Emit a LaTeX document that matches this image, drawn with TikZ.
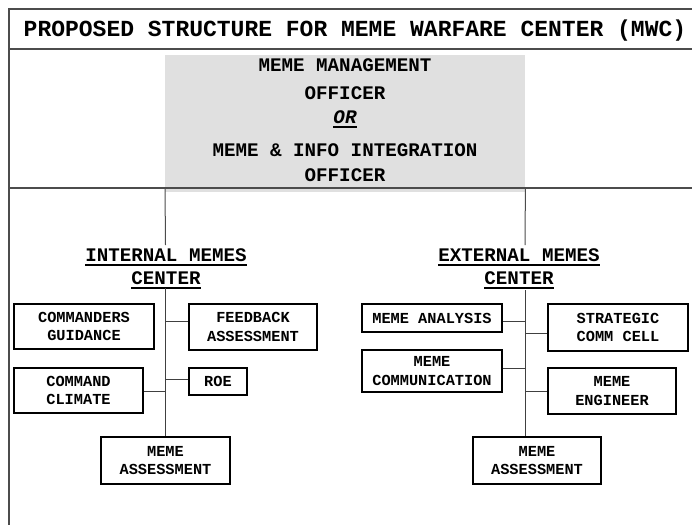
\documentclass[tikz,border=0pt]{standalone}
\usepackage{fontspec}
\newfontfamily\cour{Liberation Mono}
\begin{document}
\begin{tikzpicture}[x=1pt,y=-1pt,
  frame/.style={draw=black!70,line width=1.3pt},
  conn/.style={draw=black!75,line width=1pt},
  ubox/.style={draw,line width=1.5pt,inner sep=0pt,align=center,
    font=\cour\bfseries\fontsize{15.3}{18.5}\selectfont},
  abox/.style={ubox,line width=2.3pt},
  head/.style={inner sep=0pt,anchor=base,font=\cour\bfseries\fontsize{19.2}{23}\selectfont},
  uline/.style={line width=2pt}]
\useasboundingbox (0,0) rectangle (692,525);
% grey officer box
\node[fill=black!12,minimum width=360pt,minimum height=137pt,inner sep=0pt,anchor=north west] (mgr) at (165,55) {};
% frame
\draw[frame] (692,9) -- (9,9) -- (9,525);
\draw[frame] (9,49) -- (692,49);
\draw[frame] (9,188) -- (692,188);
% title
\node[head,font=\cour\bfseries\fontsize{23}{27}\selectfont] (title) at (355,36.7) {PROPOSED STRUCTURE FOR MEME WARFARE CENTER (MWC)};
% officer text
\node[head] (m1) at (345,71) {MEME MANAGEMENT};
\node[head] (m2) at (345,99.5) {OFFICER};
\node[head,font=\cour\bfseries\itshape\fontsize{19.2}{23}\selectfont] (m3) at (345,123) {OR};
\draw[uline] ([yshift=-3.7pt]m3.base west) -- ([yshift=-3.7pt]m3.base east);
\node[head] (m4) at (345,156.5) {MEME \& INFO INTEGRATION};
\node[head] (m5) at (345,181.5) {OFFICER};
% headings
\node[head] (ih1) at (166,261.5) {INTERNAL MEMES};
\node[head] (ih2) at (166,284) {CENTER};
\node[head] (eh1) at (519,261.5) {EXTERNAL MEMES};
\node[head] (eh2) at (519,284) {CENTER};
\foreach \n in {ih1,ih2,eh1,eh2}
  \draw[uline] ([yshift=-3.5pt]\n.base west) -- ([yshift=-3.5pt]\n.base east);
\coordinate (itop) at (165.5,245);
\coordinate (etop) at (525,245);
\draw[frame,line width=1pt] (mgr.south west |- 0,188) -- (itop);
\draw[frame,line width=1pt] (mgr.south east |- 0,188) -- (etop);
% internal boxes
\node[ubox,minimum width=140pt,minimum height=45pt] (cg) at (84,326.5) {COMMANDERS\\GUIDANCE};
\node[ubox,minimum width=128pt,minimum height=46pt] (fa) at (253,327) {FEEDBACK\\ASSESSMENT};
\node[ubox,minimum width=129pt,minimum height=45pt] (cc) at (78.5,390.5) {COMMAND\\CLIMATE};
\node[ubox,minimum width=58pt,minimum height=27pt] (roe) at (218,381.5) {ROE};
\node[abox,minimum width=129pt,minimum height=47pt] (ima) at (165.5,460.5) {MEME\\ASSESSMENT};
% external boxes
\node[ubox,minimum width=140pt,minimum height=28pt] (man) at (432,318) {MEME ANALYSIS};
\node[ubox,minimum width=140pt,minimum height=47pt] (scc) at (618,327.5) {STRATEGIC\\COMM CELL};
\node[ubox,minimum width=140pt,minimum height=42pt] (mco) at (432,371) {MEME\\COMMUNICATION};
\node[ubox,minimum width=128pt,minimum height=46pt] (men) at (612,391) {MEME\\ENGINEER};
\node[abox,minimum width=128pt,minimum height=47pt] (ema) at (537,460.5) {MEME\\ASSESSMENT};
% internal stem and branches
\coordinate (istem) at (165.5,288);
\draw[conn] (istem) -- (istem |- ima.north);
\draw[conn] (istem |- 0,321) -- (fa.west |- 0,321);
\draw[conn] (istem |- 0,379) -- (roe.west |- 0,379);
\draw[conn] (cc.east |- 0,391) -- (istem |- 0,391);
% external stem and branches
\coordinate (estem) at (525,290);
\draw[conn] (estem) -- (estem |- ema.north);
\draw[conn] (man.east |- 0,321) -- (estem |- 0,321);
\draw[conn] (estem |- 0,333) -- (scc.west |- 0,333);
\draw[conn] (mco.east |- 0,368) -- (estem |- 0,368);
\draw[conn] (estem |- 0,391) -- (men.west |- 0,391);
\end{tikzpicture}
\end{document}
